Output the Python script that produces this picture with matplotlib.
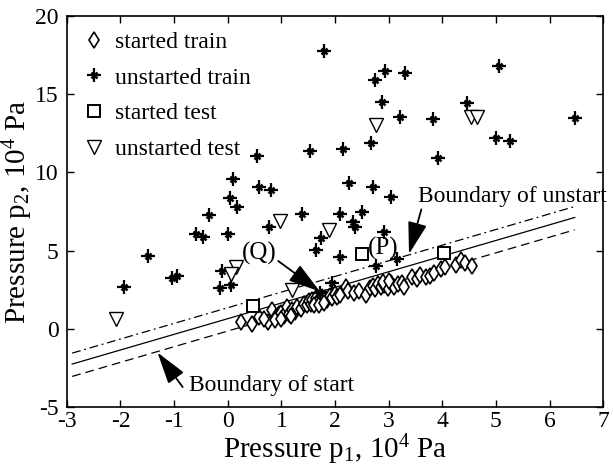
import matplotlib
matplotlib.use('Agg')
import matplotlib.pyplot as plt
from matplotlib.legend_handler import HandlerTuple

# started train (diamonds)
started_train_p1 = [0.24, 0.45, 0.58, 0.76, 0.83, 0.90, 0.95, 0.99, 1.04, 1.08, 1.11, 1.15,
                    1.20, 1.25, 1.30, 1.36, 1.42, 1.48, 1.52, 1.55, 1.58, 1.62, 1.65, 1.68,
                    1.72, 1.75, 1.78, 1.82, 1.86, 1.90, 1.95, 2.00, 2.04, 2.10, 2.20, 2.25,
                    2.35, 2.45, 2.57, 2.65, 2.70, 2.75, 2.80, 2.86, 2.92, 2.98, 3.05, 3.10,
                    3.18, 3.24, 3.28, 3.44, 3.52, 3.59, 3.69, 3.78, 3.84, 3.97, 4.06, 4.25,
                    4.34, 4.43, 4.56, 0.68, 0.88, 1.00, 1.18, 1.60, 1.70, 1.80, 2.90, 3.00]
started_train_p2 = [0.42, 0.32, 0.78, 0.47, 1.21, 0.75, 0.95, 1.00, 0.80, 1.10, 1.42, 0.95,
                    1.20, 1.05, 1.42, 1.25, 1.60, 1.50, 1.75, 1.60, 1.85, 1.70, 1.95, 1.75,
                    1.90, 2.05, 1.80, 2.00, 1.85, 2.10, 1.95, 2.20, 2.05, 2.15, 2.66, 2.40,
                    2.28, 2.45, 2.17, 2.60, 2.75, 2.55, 2.85, 2.65, 2.80, 2.60, 2.90, 2.70,
                    2.85, 2.95, 2.70, 3.30, 3.20, 3.45, 3.34, 3.40, 3.55, 3.81, 3.94, 4.08,
                    4.40, 4.19, 4.02, 0.60, 0.55, 0.65, 0.85, 1.55, 1.55, 1.65, 3.00, 3.05]

# unstarted train (asterisks)
unstarted_train_p1 = [-1.93, -1.48, -1.03, -0.94, -0.60, -0.47, -0.35, 0.55, 0.09, 0.58, 0.80,
                      0.04, 0.17, 0.01, 0.77, 1.39, 2.10, 2.27, 2.34, 2.38, 1.73, 1.65, 2.09,
                      -0.10, -0.14, 0.07, 1.95, 1.72, 5.05, 2.93, 3.31, 2.74, 2.87, 4.46, 3.21,
                      3.83, 6.47, 2.68, 5.01, 5.27, 2.15, 3.92, 2.71, 3.05, 1.79, 1.53, 2.51,
                      2.91, 2.77, 3.15]
unstarted_train_p2 = [2.70, 4.66, 3.23, 3.38, 6.04, 5.89, 7.28, 11.04, 9.55, 9.08, 8.87,
                      8.34, 7.80, 6.04, 6.49, 7.32, 7.32, 9.30, 6.85, 6.53, 5.83, 5.04, 4.57,
                      3.72, 2.64, 2.81, 2.92, 2.32, 16.78, 16.49, 16.36, 15.89, 14.51, 14.45, 13.55,
                      13.40, 13.49, 11.91, 12.17, 12.00, 11.49, 10.89, 9.04, 8.40, 17.74, 11.38, 7.49,
                      6.21, 4.02, 4.45]

# started test (squares)
started_test_p1 = [0.48, 2.51, 4.03]
started_test_p2 = [1.47, 4.79, 4.87]

# unstarted test (triangles)
unstarted_test_p1 = [-2.09, 0.97, 1.88, 0.16, 0.07, 1.19, 2.77, 4.54, 4.64]
unstarted_test_p2 = [0.64, 6.89, 6.32, 3.98, 3.51, 2.49, 13.06, 13.55, 13.51]

# boundary lines (end points)
boundary_p1 = [-2.9, 6.47]
unstart_p2 = [-1.55, 7.82]
middle_p2 = [-2.25, 7.12]
start_p2 = [-3.04, 6.33]

plt.rcParams['font.family'] = 'Liberation Serif'
plt.rcParams['mathtext.fontset'] = 'custom'
plt.rcParams['mathtext.rm'] = 'Liberation Serif'
plt.rcParams['mathtext.it'] = 'Liberation Serif:italic'
plt.rcParams['axes.unicode_minus'] = False

fig = plt.figure(figsize=(6.13, 4.69), dpi=100)
ax = fig.add_axes([0.109, 0.132, 0.875, 0.834])

ax.plot(boundary_p1, unstart_p2, color='k', ls=(0, (7, 3, 1.5, 3)), lw=0.9)
ax.plot(boundary_p1, middle_p2, color='k', ls='solid', lw=0.9)
ax.plot(boundary_p1, start_p2, color='k', ls=(0, (7, 4)), lw=0.9)

d_line, = ax.plot(started_train_p1, started_train_p2, ls='none', marker='d', ms=8.5,
                  mfc='white', mec='k', mew=1.2)
u_plus, = ax.plot(unstarted_train_p1, unstarted_train_p2, ls='none', marker='+', ms=10,
                  color='k', mew=1.6)
u_x, = ax.plot(unstarted_train_p1, unstarted_train_p2, ls='none', marker='x', ms=5,
               color='k', mew=1.8)
s_line, = ax.plot(started_test_p1, started_test_p2, ls='none', marker='s', ms=8,
                  mfc='white', mec='k', mew=1.4)
t_line, = ax.plot(unstarted_test_p1, unstarted_test_p2, ls='none', marker='v', ms=10,
                  mfc='white', mec='k', mew=1.0)

arrow = dict(arrowstyle='-|>,head_length=1.1,head_width=0.33', mutation_scale=18,
             color='k', lw=1.3, shrinkA=0, shrinkB=0)
ax.annotate('', xy=(1.72, 2.38), xytext=(0.94, 4.34), arrowprops=arrow)
ax.annotate('', xy=(3.38, 4.79), xytext=(3.61, 7.64), arrowprops=arrow)
ax.annotate('', xy=(-1.31, -1.51), xytext=(-0.84, -3.72), arrowprops=arrow)
ax.text(0.58, 4.85, '(Q)', fontsize=18, ha='center', va='center')
ax.text(2.90, 5.14, '(P)', fontsize=18, ha='center', va='center')
ax.text(3.54, 8.45, 'Boundary of unstart', fontsize=17, ha='left', va='center')
ax.text(-0.73, -3.64, 'Boundary of start', fontsize=17, ha='left', va='center')

ax.set_xlim(-3, 7)
ax.set_ylim(-5, 20)
ax.set_xticks(range(-3, 8))
ax.set_yticks(range(-5, 21, 5))
ax.tick_params(direction='in', length=5, width=1, labelsize=17,
               top=True, right=True)
ax.tick_params(axis='x', pad=3)
ax.tick_params(axis='y', pad=6)
for s in ax.spines.values():
    s.set_linewidth(1.2)

ax.set_xlabel(r'Pressure p$_\mathregular{1}$, 10$^\mathregular{4}$ Pa', fontsize=21, labelpad=0)
ax.set_ylabel(r'Pressure p$_\mathregular{2}$, 10$^\mathregular{4}$ Pa', fontsize=21, labelpad=0)

ax.legend([d_line, (u_plus, u_x), s_line, t_line],
          ['started train', 'unstarted train', 'started test', 'unstarted test'],
          handler_map={tuple: HandlerTuple(ndivide=1, pad=0)},
          loc='upper left', frameon=False, fontsize=17, numpoints=1, handlelength=1.0,
          handletextpad=0.4, labelspacing=0.6, borderaxespad=0.3, borderpad=0.35)

fig.savefig('out.png', dpi=100)
